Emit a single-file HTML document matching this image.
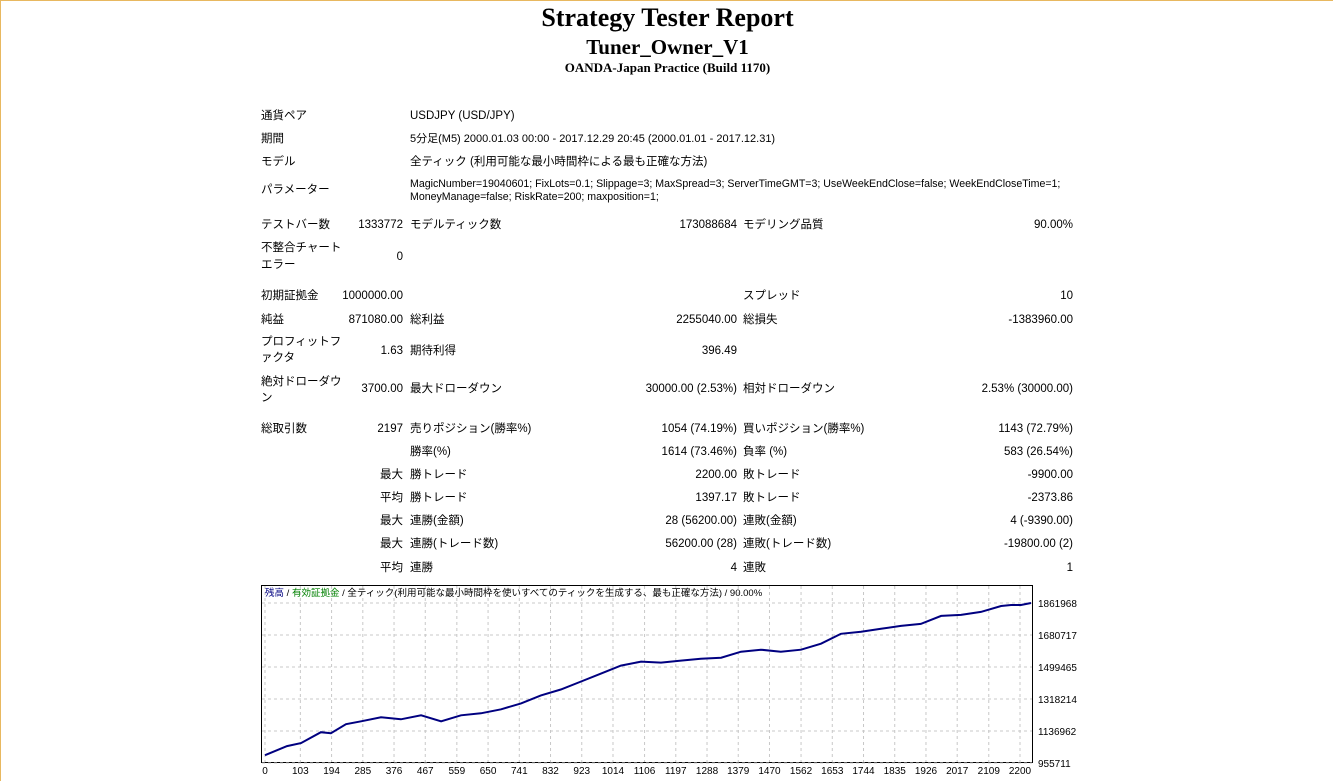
<!DOCTYPE html>
<html><head><meta charset="utf-8">
<style>
body{margin:0;width:1333px;height:781px;background:#fff;position:relative;overflow:hidden;font-family:"Liberation Sans","Noto Sans CJK JP",sans-serif;color:#000;border-left:1px solid #e8b860;border-top:1px solid #e8b860;box-sizing:border-box}
.t{position:absolute;font-size:11.5px;line-height:15px;white-space:nowrap}
.c1{left:260px}.v1{left:300px;width:102px;text-align:right}
.c2{left:409px}.v2{left:500px;width:236px;text-align:right}
.c3{left:742px}.v3{left:900px;width:172px;text-align:right}
.m{left:260px;width:142px;text-align:right}
h1,h2,h3{position:absolute;left:0;width:1333px;text-align:center;margin:0;font-family:"Liberation Serif",serif;font-weight:bold}
</style></head><body>
<h1 style="top:2px;font-size:26px">Strategy Tester Report</h1>
<h2 style="top:34px;font-size:21px">Tuner_Owner_V1</h2>
<h3 style="top:59px;font-size:13px">OANDA-Japan Practice (Build 1170)</h3>

<div class="t c1" style="top:108px">通貨ペア</div>
<div class="t c2" style="top:108px">USDJPY (USD/JPY)</div>
<div class="t c1" style="top:131px">期間</div>
<div class="t c2" style="top:131px;font-size:11px">5分足(M5) 2000.01.03 00:00 - 2017.12.29 20:45 (2000.01.01 - 2017.12.31)</div>
<div class="t c1" style="top:154px">モデル</div>
<div class="t c2" style="top:154px">全ティック (利用可能な最小時間枠による最も正確な方法)</div>
<div class="t c1" style="top:182px">パラメーター</div>
<div class="t c2" style="top:177px;line-height:13px;font-size:10.6px">MagicNumber=19040601; FixLots=0.1; Slippage=3; MaxSpread=3; ServerTimeGMT=3; UseWeekEndClose=false; WeekEndCloseTime=1;<br>MoneyManage=false; RiskRate=200; maxposition=1;</div>

<div class="t c1" style="top:217px">テストバー数</div>
<div class="t v1" style="top:217px">1333772</div>
<div class="t c2" style="top:217px">モデルティック数</div>
<div class="t v2" style="top:217px">173088684</div>
<div class="t c3" style="top:217px">モデリング品質</div>
<div class="t v3" style="top:217px">90.00%</div>
<div class="t c1" style="top:239px;line-height:17px">不整合チャート<br>エラー</div>
<div class="t v1" style="top:249px">0</div>

<div class="t c1" style="top:288px">初期証拠金</div>
<div class="t v1" style="top:288px">1000000.00</div>
<div class="t c3" style="top:288px">スプレッド</div>
<div class="t v3" style="top:288px">10</div>

<div class="t c1" style="top:312px">純益</div>
<div class="t v1" style="top:312px">871080.00</div>
<div class="t c2" style="top:312px">総利益</div>
<div class="t v2" style="top:312px">2255040.00</div>
<div class="t c3" style="top:312px">総損失</div>
<div class="t v3" style="top:312px">-1383960.00</div>

<div class="t c1" style="top:333px;line-height:16px">プロフィットフ<br>ァクタ</div>
<div class="t v1" style="top:343px">1.63</div>
<div class="t c2" style="top:343px">期待利得</div>
<div class="t v2" style="top:343px">396.49</div>

<div class="t c1" style="top:373px;line-height:16px">絶対ドローダウ<br>ン</div>
<div class="t v1" style="top:381px">3700.00</div>
<div class="t c2" style="top:381px">最大ドローダウン</div>
<div class="t v2" style="top:381px">30000.00 (2.53%)</div>
<div class="t c3" style="top:381px">相対ドローダウン</div>
<div class="t v3" style="top:381px">2.53% (30000.00)</div>

<div class="t c1" style="top:421px">総取引数</div>
<div class="t v1" style="top:421px">2197</div>
<div class="t c2" style="top:421px">売りポジション(勝率%)</div>
<div class="t v2" style="top:421px">1054 (74.19%)</div>
<div class="t c3" style="top:421px">買いポジション(勝率%)</div>
<div class="t v3" style="top:421px">1143 (72.79%)</div>

<div class="t c2" style="top:444px">勝率(%)</div>
<div class="t v2" style="top:444px">1614 (73.46%)</div>
<div class="t c3" style="top:444px">負率 (%)</div>
<div class="t v3" style="top:444px">583 (26.54%)</div>

<div class="t m" style="top:467px">最大</div>
<div class="t c2" style="top:467px">勝トレード</div>
<div class="t v2" style="top:467px">2200.00</div>
<div class="t c3" style="top:467px">敗トレード</div>
<div class="t v3" style="top:467px">-9900.00</div>

<div class="t m" style="top:490px">平均</div>
<div class="t c2" style="top:490px">勝トレード</div>
<div class="t v2" style="top:490px">1397.17</div>
<div class="t c3" style="top:490px">敗トレード</div>
<div class="t v3" style="top:490px">-2373.86</div>

<div class="t m" style="top:513px">最大</div>
<div class="t c2" style="top:513px">連勝(金額)</div>
<div class="t v2" style="top:513px">28 (56200.00)</div>
<div class="t c3" style="top:513px">連敗(金額)</div>
<div class="t v3" style="top:513px">4 (-9390.00)</div>

<div class="t m" style="top:536px">最大</div>
<div class="t c2" style="top:536px">連勝(トレード数)</div>
<div class="t v2" style="top:536px">56200.00 (28)</div>
<div class="t c3" style="top:536px">連敗(トレード数)</div>
<div class="t v3" style="top:536px">-19800.00 (2)</div>

<div class="t m" style="top:560px">平均</div>
<div class="t c2" style="top:560px">連勝</div>
<div class="t v2" style="top:560px">4</div>
<div class="t c3" style="top:560px">連敗</div>
<div class="t v3" style="top:560px">1</div>

<svg id="chart" style="position:absolute;left:0;top:0" width="1333" height="781"></svg>

<script>
const tickTrades=[0,103,194,285,376,467,559,650,741,832,923,1014,1106,1197,1288,1379,1470,1562,1653,1744,1835,1926,2017,2109,2200];
const tickValues=[955711,1136962,1318214,1499465,1680717,1861968];
const trades=[0,64,105,163,192,236,280,338,396,455,513,571,629,688,746,804,862,921,979,1037,1096,1154,1212,1270,1329,1387,1445,1503,1562,1620,1678,1737,1795,1853,1911,1970,2028,2086,2145,2174,2203,2232];
const balance=[1000000,1051400,1068300,1130200,1124600,1175200,1192100,1214600,1203400,1225900,1192100,1225900,1237200,1259700,1293400,1338500,1372300,1417300,1462300,1507400,1529900,1524200,1535500,1546700,1552400,1586100,1597400,1586100,1597400,1631200,1687500,1698700,1715600,1732500,1743800,1788800,1794400,1811300,1845100,1850700,1850700,1862000];

const NS="http://www.w3.org/2000/svg";
const svg=document.getElementById('chart');
const x=t=>264+t*(1019-264)/2200;
const y=v=>762-(v-955711)*(762-602)/(1861968-955711);
function mk(tag,attrs){const e=document.createElementNS(NS,tag);for(const k in attrs)e.setAttribute(k,attrs[k]);svg.appendChild(e);return e;}

const frame=mk('rect',{x:260.5,y:584.5,width:771,height:177,fill:'#fff',stroke:'#000','stroke-width':1});



tickTrades.forEach(t=>{
  const g=mk('line',{x1:x(t),x2:x(t),y1:585,y2:761,stroke:'#c8c8c8','stroke-dasharray':'3,3'});
  
  
  const lb=mk('text',{x:x(t),y:773,'font-size':'10','text-anchor':'middle','font-family':'Liberation Sans, sans-serif'});
  lb.textContent=t;
  
  
});
tickValues.forEach(v=>{
  const g=mk('line',{x1:261,x2:1031,y1:y(v),y2:y(v),stroke:'#c8c8c8','stroke-dasharray':'3,3'});
  
  
  const lb=mk('text',{x:1037,y:y(v)+4,'font-size':'10','font-family':'Liberation Sans, sans-serif'});
  lb.textContent=v;
  
  
});
let d='';
trades.forEach((t,i)=>{d+=(i?'L':'M')+x(t).toFixed(1)+','+y(balance[i]).toFixed(1);});
const line=mk('path',{d:d,fill:'none',stroke:'#000080','stroke-width':2});



const hdr=mk('text',{x:264,y:595,'font-size':'9.5','font-family':'Liberation Sans, Noto Sans CJK JP, sans-serif'});
hdr.innerHTML='<tspan fill="#000080">残高</tspan> / <tspan fill="#008000">有効証拠金</tspan> / 全ティック(利用可能な最小時間枠を使いすべてのティックを生成する、最も正確な方法) / 90.00%';


</script>
</body></html>
